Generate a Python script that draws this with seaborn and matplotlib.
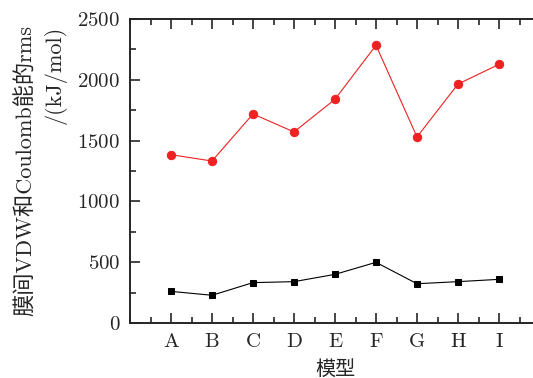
import numpy as np
import pandas as pd
import matplotlib
matplotlib.use("Agg")
import matplotlib.pyplot as plt
import seaborn as sns
from matplotlib.ticker import MultipleLocator

models = ["A", "B", "C", "D", "E", "F", "G", "H", "I"]
coulomb_vdw = [1384, 1332, 1719, 1571, 1840, 2284, 1530, 1965, 2127]
lower_series = [260, 228, 332, 340, 400, 499, 323, 340, 359]

sns.set_style("ticks")
plt.rcParams["font.family"] = ["cmr10", "Noto Sans CJK SC"]
plt.rcParams["axes.formatter.use_mathtext"] = True
plt.rcParams["axes.unicode_minus"] = False

df = pd.DataFrame({"idx": np.arange(len(models)), "red": coulomb_vdw, "black": lower_series})

fig = plt.figure(figsize=(5.33, 3.78), dpi=100)
# right edge of the frame falls outside the picture, like the reference
ax = fig.add_axes([130 / 533, (378 - 323) / 378, (540 - 130) / 533, (323 - 19) / 378])

sns.lineplot(data=df, x="idx", y="red", ax=ax, color="#ee2222", lw=0.8,
             marker="o", markersize=6, markeredgecolor="#ee2222")
sns.lineplot(data=df, x="idx", y="black", ax=ax, color="black", lw=0.8,
             marker="s", markersize=5, markeredgecolor="black")

ax.set_xlim(-1, 9)
ax.set_ylim(0, 2500)
ax.set_xticks(range(len(models)))
ax.set_xticklabels(models)
ax.xaxis.set_minor_locator(MultipleLocator(0.5))
ax.yaxis.set_major_locator(MultipleLocator(500))
ax.yaxis.set_minor_locator(MultipleLocator(250))
ax.tick_params(which="both", direction="in", top=True, right=False, width=1.2,
               labelsize=15, pad=7)
ax.tick_params(which="major", length=7)
ax.tick_params(which="minor", length=4.5)
for s in ax.spines.values():
    s.set_linewidth(1.4)
ax.spines["right"].set_visible(False)

ax.set_xlabel("模型", fontsize=14.5, labelpad=7)
ax.set_ylabel("膜间VDW和Coulomb能的rms\n/(kJ/mol)", fontsize=16,
              multialignment="right", labelpad=8, linespacing=1.45)

fig.savefig("out.png", dpi=100)
